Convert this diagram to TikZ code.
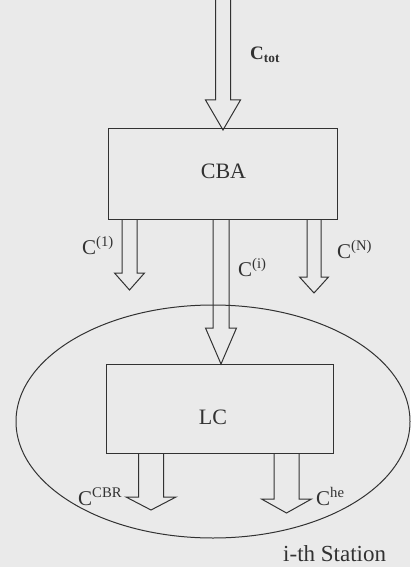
\documentclass[tikz,border=0pt]{standalone}
\usepackage{fontspec}
\setmainfont{Liberation Serif}
\definecolor{bgc}{RGB}{234,234,234}
\definecolor{ink}{RGB}{50,50,50}
% block arrow: center x, top y, head base y, tip y, half shaft, half head
\newcommand\blockarr[6]{%
  \draw[blk] (#1-#5,#2) -- (#1-#5,#3) -- (#1-#6,#3) -- (#1,#4) -- (#1+#6,#3) -- (#1+#5,#3) -- (#1+#5,#2);}
\begin{document}
\begin{tikzpicture}[x=1pt,y=-1pt,
  blk/.style={draw=ink,line width=1pt,line join=miter},
  box/.style={draw=ink,line width=1pt},
  lbl/.style={inner sep=0pt,text=ink,font=\fontsize{21}{24}\selectfont},
  big/.style={inner sep=0pt,text=ink,font=\fontsize{22}{26}\selectfont}]
\fill[bgc] (0,0) rectangle (410,567);
\useasboundingbox (0,0) rectangle (410,567);
% boxes
\draw[box] (108,128) rectangle (337,219);
\draw[box] (106,364) rectangle (333,453);
% ellipse
\draw[box] (213,421.5) ellipse [x radius=197, y radius=116.5];
% arrows
\blockarr{223}{-2}{100}{130}{7.5}{17.5}
\blockarr{129.5}{219}{273}{290}{7.5}{15}
\blockarr{221}{219}{328}{364}{8}{15.5}
\blockarr{314}{219}{277}{293}{7}{14.5}
\blockarr{151}{453}{497}{510}{12.5}{25}
\blockarr{286.5}{453}{499}{513}{12.5}{25}
% texts
\node[big,anchor=base] (cba) at (223.5,178) {CBA};
\node[big,anchor=base] (lc) at (213,424) {LC};
\node[inner sep=0pt,text=ink,anchor=base west,font=\fontsize{19}{22}\selectfont\bfseries] (ctot) at (250,60) {C\textsubscript{tot}};
\node[lbl,anchor=base west] (c1) at (82,254) {C\textsuperscript{(1)}};
\node[lbl,anchor=base west] (ci) at (238,276) {C\textsuperscript{(i)}};
\node[lbl,anchor=base west] (cn) at (337,258) {C\textsuperscript{(N)}};
\node[lbl,anchor=base west] (ccbr) at (78,505) {C\textsuperscript{CBR}};
\node[lbl,anchor=base west] (che) at (316,505) {C\textsuperscript{he}};
\node[inner sep=0pt,text=ink,anchor=base west,font=\fontsize{23}{26}\selectfont] (st) at (283,561) {i-th Station};
\end{tikzpicture}
\end{document}
